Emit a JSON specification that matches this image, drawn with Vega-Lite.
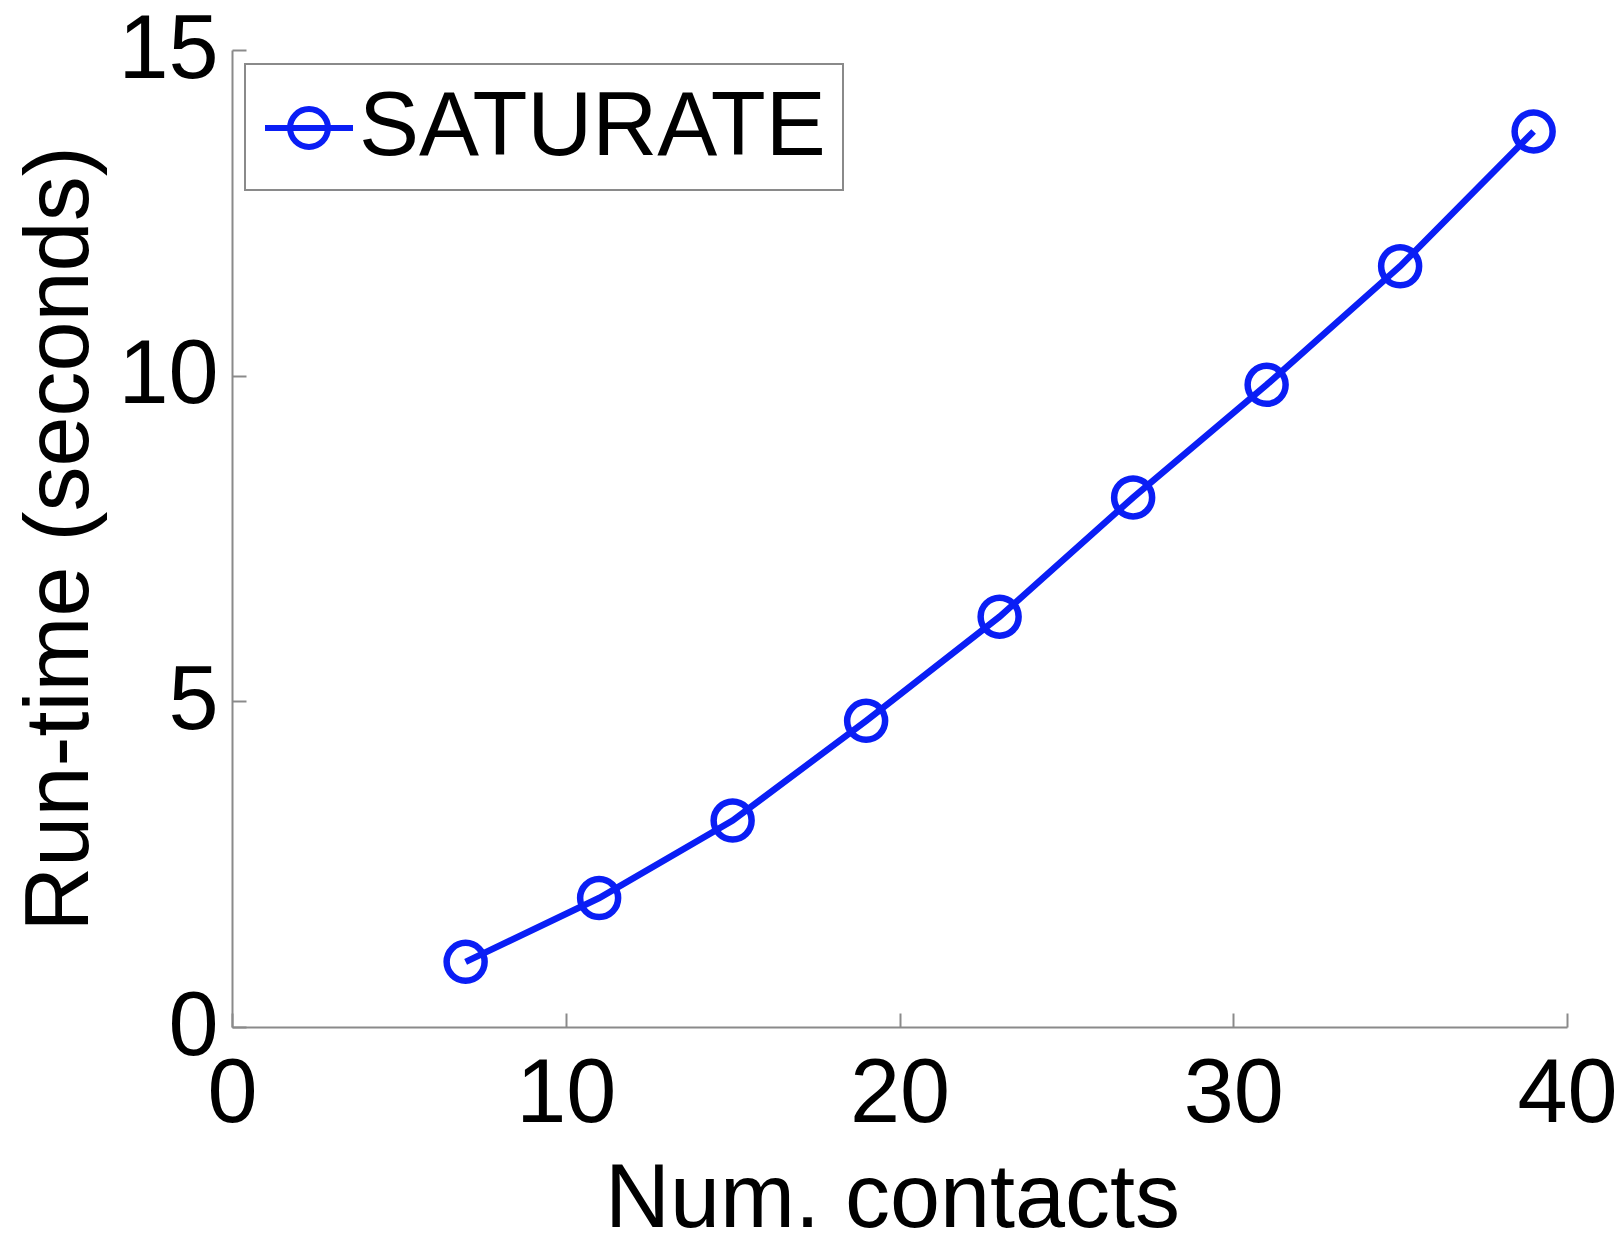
{
  "$schema": "https://vega.github.io/schema/vega-lite/v6.json",
  "width": 1335,
  "height": 977,
  "autosize": "none",
  "padding": {"left": 232, "top": 50, "right": 54, "bottom": 210},
  "background": "white",
  "config": {"view": {"stroke": null}, "font": "Liberation Sans", "legend": {"strokeWidth": 2}},
  "data": {
    "values": [
      {"contacts": 7, "runtime": 1.0, "series": "SATURATE"},
      {"contacts": 11, "runtime": 1.98, "series": "SATURATE"},
      {"contacts": 15, "runtime": 3.17, "series": "SATURATE"},
      {"contacts": 19, "runtime": 4.7, "series": "SATURATE"},
      {"contacts": 23, "runtime": 6.3, "series": "SATURATE"},
      {"contacts": 27, "runtime": 8.13, "series": "SATURATE"},
      {"contacts": 31, "runtime": 9.86, "series": "SATURATE"},
      {"contacts": 35, "runtime": 11.68, "series": "SATURATE"},
      {"contacts": 39, "runtime": 13.75, "series": "SATURATE"}
    ]
  },
  "encoding": {
    "x": {
      "field": "contacts",
      "type": "quantitative",
      "scale": {"domain": [0, 40], "nice": false, "zero": false},
      "axis": {
        "values": [0, 10, 20, 30, 40],
        "title": "Num. contacts",
        "titleFontSize": 90,
        "titleFontWeight": "normal",
        "titleColor": "black",
        "titleX": 660,
        "titleY": 199,
        "titleBaseline": "alphabetic",
        "titleAlign": "center",
        "labelFontSize": 90,
        "labelColor": "black",
        "labelPadding": 37,
        "labelFlush": false,
        "labelOverlap": false,
        "tickSize": -14,
        "tickColor": "#8a8a8a",
        "tickWidth": 2,
        "domainColor": "#8a8a8a",
        "domainWidth": 2,
        "grid": false
      }
    },
    "y": {
      "field": "runtime",
      "type": "quantitative",
      "scale": {"domain": [0, 15], "nice": false},
      "axis": {
        "values": [0, 5, 10, 15],
        "title": "Run-time (seconds)",
        "titleFontSize": 90,
        "titleFontWeight": "normal",
        "titleColor": "black",
        "titleX": -145,
        "titleY": 488.5,
        "titleAngle": -90,
        "titleBaseline": "alphabetic",
        "titleAlign": "center",
        "labelFontSize": 90,
        "labelColor": "black",
        "labelPadding": 28,
        "labelFlush": false,
        "labelOverlap": false,
        "tickSize": -14,
        "tickColor": "#8a8a8a",
        "tickWidth": 2,
        "domainColor": "#8a8a8a",
        "domainWidth": 2,
        "grid": false
      }
    }
  },
  "layer": [
    {
      "mark": {"type": "line", "strokeWidth": 6.5},
      "encoding": {
        "color": {
          "field": "series",
          "type": "nominal",
          "scale": {"range": ["#0a1ef5"]},
          "legend": {
            "orient": "none",
            "legendX": 13,
            "legendY": 14,
            "title": null,
            "padding": 17,
            "strokeColor": "#8a8a8a",
            "fillColor": "white",
            "labelFontSize": 90,
            "labelColor": "black",
            "labelFont": "Liberation Sans",
            "labelLimit": 0,
            "labelOffset": 3,
            "symbolType": "M-1,0L1,0M0.43,0A0.43,0.43,0,1,1,-0.43,0A0.43,0.43,0,1,1,0.43,0",
            "symbolSize": 7744,
            "symbolStrokeWidth": 6,
            "symbolFillColor": "transparent"
          }
        }
      }
    },
    {
      "mark": {
        "type": "point",
        "shape": "circle",
        "filled": false,
        "size": 1444,
        "strokeWidth": 6.5,
        "color": "#0a1ef5",
        "opacity": 1
      }
    }
  ]
}
